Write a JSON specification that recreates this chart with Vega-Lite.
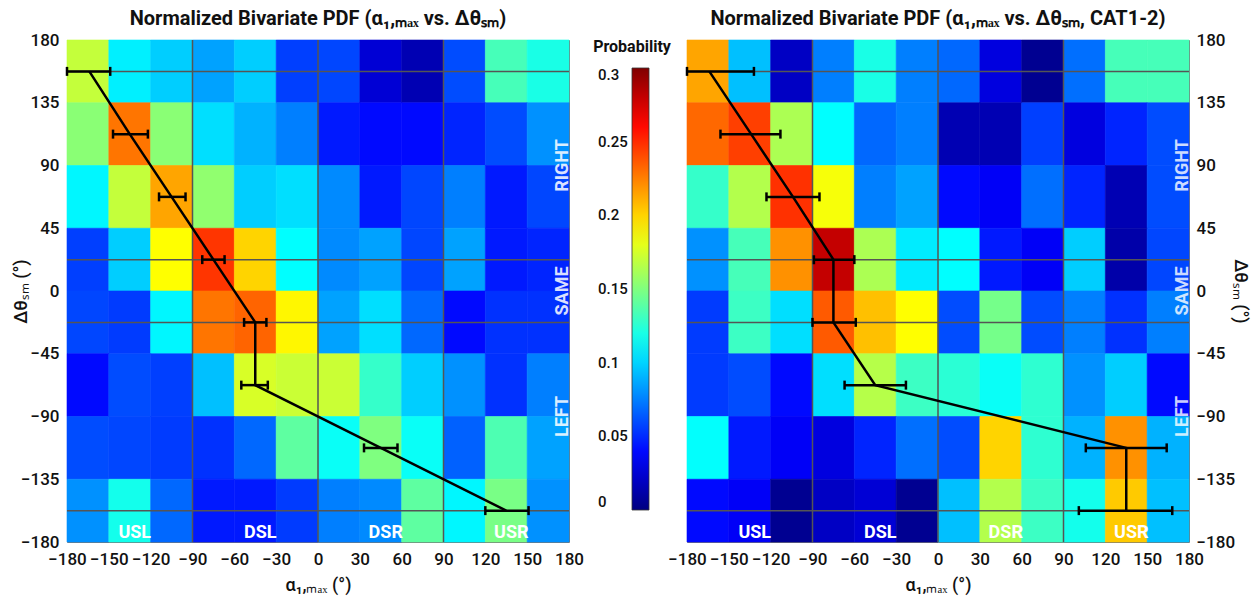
{
"$schema": "https://vega.github.io/schema/vega-lite/v6.json",
"background": "white",
"padding": {"left": 11, "top": 8, "right": 8, "bottom": 2},
"config": {
  "font": "Roboto",
  "view": {"stroke": "#777777", "strokeWidth": 1},
  "axis": {"ticks": false, "domain": false, "grid": false, "labelFont": "Roboto", "labelFontSize": 17, "labelFontWeight": 500, "labelColor": "#111111", "titleFont": "Roboto", "titleFontSize": 18, "titleFontWeight": 500, "titleColor": "#111111", "labelFlush": false, "labelOverlap": false, "labelBound": false},
  "title": {"font": "Roboto", "fontSize": 20, "fontWeight": "bold", "offset": 2, "color": "#111111"}
},
"datasets": {
  "cells": [
{"g":"L","a":-180,"a2":-150,"d":135,"d2":180,"p":0.17},{"g":"L","a":-150,"a2":-120,"d":135,"d2":180,"p":0.108},{"g":"L","a":-120,"a2":-90,"d":135,"d2":180,"p":0.098},{"g":"L","a":-90,"a2":-60,"d":135,"d2":180,"p":0.085},{"g":"L","a":-60,"a2":-30,"d":135,"d2":180,"p":0.098},{"g":"L","a":-30,"a2":0,"d":135,"d2":180,"p":0.056},{"g":"L","a":0,"a2":30,"d":135,"d2":180,"p":0.058},{"g":"L","a":30,"a2":60,"d":135,"d2":180,"p":0.025},{"g":"L","a":60,"a2":90,"d":135,"d2":180,"p":0.015},{"g":"L","a":90,"a2":120,"d":135,"d2":180,"p":0.06},{"g":"L","a":120,"a2":150,"d":135,"d2":180,"p":0.133},{"g":"L","a":150,"a2":180,"d":135,"d2":180,"p":0.12},
{"g":"L","a":-180,"a2":-150,"d":90,"d2":135,"p":0.153},{"g":"L","a":-150,"a2":-120,"d":90,"d2":135,"p":0.228},{"g":"L","a":-120,"a2":-90,"d":90,"d2":135,"p":0.153},{"g":"L","a":-90,"a2":-60,"d":90,"d2":135,"p":0.103},{"g":"L","a":-60,"a2":-30,"d":90,"d2":135,"p":0.09},{"g":"L","a":-30,"a2":0,"d":90,"d2":135,"p":0.075},{"g":"L","a":0,"a2":30,"d":90,"d2":135,"p":0.045},{"g":"L","a":30,"a2":60,"d":90,"d2":135,"p":0.04},{"g":"L","a":60,"a2":90,"d":90,"d2":135,"p":0.04},{"g":"L","a":90,"a2":120,"d":90,"d2":135,"p":0.048},{"g":"L","a":120,"a2":150,"d":90,"d2":135,"p":0.06},{"g":"L","a":150,"a2":180,"d":90,"d2":135,"p":0.08},
{"g":"L","a":-180,"a2":-150,"d":45,"d2":90,"p":0.11},{"g":"L","a":-150,"a2":-120,"d":45,"d2":90,"p":0.17},{"g":"L","a":-120,"a2":-90,"d":45,"d2":90,"p":0.214},{"g":"L","a":-90,"a2":-60,"d":45,"d2":90,"p":0.155},{"g":"L","a":-60,"a2":-30,"d":45,"d2":90,"p":0.098},{"g":"L","a":-30,"a2":0,"d":45,"d2":90,"p":0.103},{"g":"L","a":0,"a2":30,"d":45,"d2":90,"p":0.078},{"g":"L","a":30,"a2":60,"d":45,"d2":90,"p":0.045},{"g":"L","a":60,"a2":90,"d":45,"d2":90,"p":0.058},{"g":"L","a":90,"a2":120,"d":45,"d2":90,"p":0.075},{"g":"L","a":120,"a2":150,"d":45,"d2":90,"p":0.045},{"g":"L","a":150,"a2":180,"d":45,"d2":90,"p":0.058},
{"g":"L","a":-180,"a2":-150,"d":0,"d2":45,"p":0.056},{"g":"L","a":-150,"a2":-120,"d":0,"d2":45,"p":0.098},{"g":"L","a":-120,"a2":-90,"d":0,"d2":45,"p":0.1875},{"g":"L","a":-90,"a2":-60,"d":0,"d2":45,"p":0.247},{"g":"L","a":-60,"a2":-30,"d":0,"d2":45,"p":0.2},{"g":"L","a":-30,"a2":0,"d":0,"d2":45,"p":0.1125},{"g":"L","a":0,"a2":30,"d":0,"d2":45,"p":0.078},{"g":"L","a":30,"a2":60,"d":0,"d2":45,"p":0.085},{"g":"L","a":60,"a2":90,"d":0,"d2":45,"p":0.058},{"g":"L","a":90,"a2":120,"d":0,"d2":45,"p":0.085},{"g":"L","a":120,"a2":150,"d":0,"d2":45,"p":0.045},{"g":"L","a":150,"a2":180,"d":0,"d2":45,"p":0.048},
{"g":"L","a":-180,"a2":-150,"d":-45,"d2":0,"p":0.058},{"g":"L","a":-150,"a2":-120,"d":-45,"d2":0,"p":0.055},{"g":"L","a":-120,"a2":-90,"d":-45,"d2":0,"p":0.11},{"g":"L","a":-90,"a2":-60,"d":-45,"d2":0,"p":0.228},{"g":"L","a":-60,"a2":-30,"d":-45,"d2":0,"p":0.233},{"g":"L","a":-30,"a2":0,"d":-45,"d2":0,"p":0.19},{"g":"L","a":0,"a2":30,"d":-45,"d2":0,"p":0.085},{"g":"L","a":30,"a2":60,"d":-45,"d2":0,"p":0.103},{"g":"L","a":60,"a2":90,"d":-45,"d2":0,"p":0.068},{"g":"L","a":90,"a2":120,"d":-45,"d2":0,"p":0.04},{"g":"L","a":120,"a2":150,"d":-45,"d2":0,"p":0.052},{"g":"L","a":150,"a2":180,"d":-45,"d2":0,"p":0.052},
{"g":"L","a":-180,"a2":-150,"d":-90,"d2":-45,"p":0.04},{"g":"L","a":-150,"a2":-120,"d":-90,"d2":-45,"p":0.06},{"g":"L","a":-120,"a2":-90,"d":-90,"d2":-45,"p":0.056},{"g":"L","a":-90,"a2":-60,"d":-90,"d2":-45,"p":0.094},{"g":"L","a":-60,"a2":-30,"d":-90,"d2":-45,"p":0.176},{"g":"L","a":-30,"a2":0,"d":-90,"d2":-45,"p":0.172},{"g":"L","a":0,"a2":30,"d":-90,"d2":-45,"p":0.172},{"g":"L","a":30,"a2":60,"d":-90,"d2":-45,"p":0.128},{"g":"L","a":60,"a2":90,"d":-90,"d2":-45,"p":0.098},{"g":"L","a":90,"a2":120,"d":-90,"d2":-45,"p":0.08},{"g":"L","a":120,"a2":150,"d":-90,"d2":-45,"p":0.052},{"g":"L","a":150,"a2":180,"d":-90,"d2":-45,"p":0.075},
{"g":"L","a":-180,"a2":-150,"d":-135,"d2":-90,"p":0.06},{"g":"L","a":-150,"a2":-120,"d":-135,"d2":-90,"p":0.058},{"g":"L","a":-120,"a2":-90,"d":-135,"d2":-90,"p":0.055},{"g":"L","a":-90,"a2":-60,"d":-135,"d2":-90,"p":0.052},{"g":"L","a":-60,"a2":-30,"d":-135,"d2":-90,"p":0.068},{"g":"L","a":-30,"a2":0,"d":-135,"d2":-90,"p":0.14},{"g":"L","a":0,"a2":30,"d":-135,"d2":-90,"p":0.115},{"g":"L","a":30,"a2":60,"d":-135,"d2":-90,"p":0.15},{"g":"L","a":60,"a2":90,"d":-135,"d2":-90,"p":0.115},{"g":"L","a":90,"a2":120,"d":-135,"d2":-90,"p":0.066},{"g":"L","a":120,"a2":150,"d":-135,"d2":-90,"p":0.135},{"g":"L","a":150,"a2":180,"d":-135,"d2":-90,"p":0.085},
{"g":"L","a":-180,"a2":-150,"d":-180,"d2":-135,"p":0.08},{"g":"L","a":-150,"a2":-120,"d":-180,"d2":-135,"p":0.118},{"g":"L","a":-120,"a2":-90,"d":-180,"d2":-135,"p":0.068},{"g":"L","a":-90,"a2":-60,"d":-180,"d2":-135,"p":0.045},{"g":"L","a":-60,"a2":-30,"d":-180,"d2":-135,"p":0.045},{"g":"L","a":-30,"a2":0,"d":-180,"d2":-135,"p":0.055},{"g":"L","a":0,"a2":30,"d":-180,"d2":-135,"p":0.075},{"g":"L","a":30,"a2":60,"d":-180,"d2":-135,"p":0.078},{"g":"L","a":60,"a2":90,"d":-180,"d2":-135,"p":0.14},{"g":"L","a":90,"a2":120,"d":-180,"d2":-135,"p":0.11},{"g":"L","a":120,"a2":150,"d":-180,"d2":-135,"p":0.148},{"g":"L","a":150,"a2":180,"d":-180,"d2":-135,"p":0.08},
{"g":"R","a":-180,"a2":-150,"d":135,"d2":180,"p":0.214},{"g":"R","a":-150,"a2":-120,"d":135,"d2":180,"p":0.094},{"g":"R","a":-120,"a2":-90,"d":135,"d2":180,"p":0.02},{"g":"R","a":-90,"a2":-60,"d":135,"d2":180,"p":0.075},{"g":"R","a":-60,"a2":-30,"d":135,"d2":180,"p":0.12},{"g":"R","a":-30,"a2":0,"d":135,"d2":180,"p":0.075},{"g":"R","a":0,"a2":30,"d":135,"d2":180,"p":0.068},{"g":"R","a":30,"a2":60,"d":135,"d2":180,"p":0.028},{"g":"R","a":60,"a2":90,"d":135,"d2":180,"p":0.005},{"g":"R","a":90,"a2":120,"d":135,"d2":180,"p":0.07},{"g":"R","a":120,"a2":150,"d":135,"d2":180,"p":0.133},{"g":"R","a":150,"a2":180,"d":135,"d2":180,"p":0.133},
{"g":"R","a":-180,"a2":-150,"d":90,"d2":135,"p":0.232},{"g":"R","a":-150,"a2":-120,"d":90,"d2":135,"p":0.244},{"g":"R","a":-120,"a2":-90,"d":90,"d2":135,"p":0.163},{"g":"R","a":-90,"a2":-60,"d":90,"d2":135,"p":0.1125},{"g":"R","a":-60,"a2":-30,"d":90,"d2":135,"p":0.068},{"g":"R","a":-30,"a2":0,"d":90,"d2":135,"p":0.075},{"g":"R","a":0,"a2":30,"d":90,"d2":135,"p":0.015},{"g":"R","a":30,"a2":60,"d":90,"d2":135,"p":0.015},{"g":"R","a":60,"a2":90,"d":90,"d2":135,"p":0.056},{"g":"R","a":90,"a2":120,"d":90,"d2":135,"p":0.028},{"g":"R","a":120,"a2":150,"d":90,"d2":135,"p":0.048},{"g":"R","a":150,"a2":180,"d":90,"d2":135,"p":0.06},
{"g":"R","a":-180,"a2":-150,"d":45,"d2":90,"p":0.128},{"g":"R","a":-150,"a2":-120,"d":45,"d2":90,"p":0.165},{"g":"R","a":-120,"a2":-90,"d":45,"d2":90,"p":0.248},{"g":"R","a":-90,"a2":-60,"d":45,"d2":90,"p":0.185},{"g":"R","a":-60,"a2":-30,"d":45,"d2":90,"p":0.075},{"g":"R","a":-30,"a2":0,"d":45,"d2":90,"p":0.085},{"g":"R","a":0,"a2":30,"d":45,"d2":90,"p":0.04},{"g":"R","a":30,"a2":60,"d":45,"d2":90,"p":0.035},{"g":"R","a":60,"a2":90,"d":45,"d2":90,"p":0.07},{"g":"R","a":90,"a2":120,"d":45,"d2":90,"p":0.048},{"g":"R","a":120,"a2":150,"d":45,"d2":90,"p":0.015},{"g":"R","a":150,"a2":180,"d":45,"d2":90,"p":0.06},
{"g":"R","a":-180,"a2":-150,"d":0,"d2":45,"p":0.08},{"g":"R","a":-150,"a2":-120,"d":0,"d2":45,"p":0.133},{"g":"R","a":-120,"a2":-90,"d":0,"d2":45,"p":0.22},{"g":"R","a":-90,"a2":-60,"d":0,"d2":45,"p":0.28},{"g":"R","a":-60,"a2":-30,"d":0,"d2":45,"p":0.163},{"g":"R","a":-30,"a2":0,"d":0,"d2":45,"p":0.107},{"g":"R","a":0,"a2":30,"d":0,"d2":45,"p":0.1125},{"g":"R","a":30,"a2":60,"d":0,"d2":45,"p":0.045},{"g":"R","a":60,"a2":90,"d":0,"d2":45,"p":0.035},{"g":"R","a":90,"a2":120,"d":0,"d2":45,"p":0.098},{"g":"R","a":120,"a2":150,"d":0,"d2":45,"p":0.012},{"g":"R","a":150,"a2":180,"d":0,"d2":45,"p":0.058},
{"g":"R","a":-180,"a2":-150,"d":-45,"d2":0,"p":0.055},{"g":"R","a":-150,"a2":-120,"d":-45,"d2":0,"p":0.13},{"g":"R","a":-120,"a2":-90,"d":-45,"d2":0,"p":0.103},{"g":"R","a":-90,"a2":-60,"d":-45,"d2":0,"p":0.236},{"g":"R","a":-60,"a2":-30,"d":-45,"d2":0,"p":0.206},{"g":"R","a":-30,"a2":0,"d":-45,"d2":0,"p":0.1875},{"g":"R","a":0,"a2":30,"d":-45,"d2":0,"p":0.06},{"g":"R","a":30,"a2":60,"d":-45,"d2":0,"p":0.147},{"g":"R","a":60,"a2":90,"d":-45,"d2":0,"p":0.06},{"g":"R","a":90,"a2":120,"d":-45,"d2":0,"p":0.075},{"g":"R","a":120,"a2":150,"d":-45,"d2":0,"p":0.052},{"g":"R","a":150,"a2":180,"d":-45,"d2":0,"p":0.075},
{"g":"R","a":-180,"a2":-150,"d":-90,"d2":-45,"p":0.055},{"g":"R","a":-150,"a2":-120,"d":-90,"d2":-45,"p":0.06},{"g":"R","a":-120,"a2":-90,"d":-90,"d2":-45,"p":0.04},{"g":"R","a":-90,"a2":-60,"d":-90,"d2":-45,"p":0.103},{"g":"R","a":-60,"a2":-30,"d":-90,"d2":-45,"p":0.166},{"g":"R","a":-30,"a2":0,"d":-90,"d2":-45,"p":0.13},{"g":"R","a":0,"a2":30,"d":-90,"d2":-45,"p":0.125},{"g":"R","a":30,"a2":60,"d":-90,"d2":-45,"p":0.115},{"g":"R","a":60,"a2":90,"d":-90,"d2":-45,"p":0.126},{"g":"R","a":90,"a2":120,"d":-90,"d2":-45,"p":0.08},{"g":"R","a":120,"a2":150,"d":-90,"d2":-45,"p":0.098},{"g":"R","a":150,"a2":180,"d":-90,"d2":-45,"p":0.04},
{"g":"R","a":-180,"a2":-150,"d":-135,"d2":-90,"p":0.113},{"g":"R","a":-150,"a2":-120,"d":-135,"d2":-90,"p":0.045},{"g":"R","a":-120,"a2":-90,"d":-135,"d2":-90,"p":0.035},{"g":"R","a":-90,"a2":-60,"d":-135,"d2":-90,"p":0.028},{"g":"R","a":-60,"a2":-30,"d":-135,"d2":-90,"p":0.048},{"g":"R","a":-30,"a2":0,"d":-135,"d2":-90,"p":0.07},{"g":"R","a":0,"a2":30,"d":-135,"d2":-90,"p":0.06},{"g":"R","a":30,"a2":60,"d":-135,"d2":-90,"p":0.2},{"g":"R","a":60,"a2":90,"d":-135,"d2":-90,"p":0.126},{"g":"R","a":90,"a2":120,"d":-135,"d2":-90,"p":0.09},{"g":"R","a":120,"a2":150,"d":-135,"d2":-90,"p":0.22},{"g":"R","a":150,"a2":180,"d":-135,"d2":-90,"p":0.09},
{"g":"R","a":-180,"a2":-150,"d":-180,"d2":-135,"p":0.04},{"g":"R","a":-150,"a2":-120,"d":-180,"d2":-135,"p":0.035},{"g":"R","a":-120,"a2":-90,"d":-180,"d2":-135,"p":0.005},{"g":"R","a":-90,"a2":-60,"d":-180,"d2":-135,"p":0.02},{"g":"R","a":-60,"a2":-30,"d":-180,"d2":-135,"p":0.025},{"g":"R","a":-30,"a2":0,"d":-180,"d2":-135,"p":0.005},{"g":"R","a":0,"a2":30,"d":-180,"d2":-135,"p":0.094},{"g":"R","a":30,"a2":60,"d":-180,"d2":-135,"p":0.165},{"g":"R","a":60,"a2":90,"d":-180,"d2":-135,"p":0.13},{"g":"R","a":90,"a2":120,"d":-180,"d2":-135,"p":0.118},{"g":"R","a":120,"a2":150,"d":-180,"d2":-135,"p":0.203},{"g":"R","a":150,"a2":180,"d":-180,"d2":-135,"p":0.094}
  ],
  "path": [
{"g":"L","k":1,"y":157.5,"x":-164,"lo":-180,"hi":-149},
{"g":"L","k":2,"y":112.5,"x":-135,"lo":-147,"hi":-122},
{"g":"L","k":3,"y":67.5,"x":-105,"lo":-114,"hi":-95},
{"g":"L","k":4,"y":22.5,"x":-75,"lo":-83,"hi":-67},
{"g":"L","k":5,"y":-22.5,"x":-45,"lo":-53,"hi":-37},
{"g":"L","k":6,"y":-67.5,"x":-45,"lo":-55,"hi":-36},
{"g":"L","k":7,"y":-112.5,"x":45,"lo":33,"hi":57},
{"g":"L","k":8,"y":-157.5,"x":135,"lo":120,"hi":151},
{"g":"R","k":1,"y":157.5,"x":-164,"lo":-180,"hi":-132},
{"g":"R","k":2,"y":112.5,"x":-134,"lo":-156,"hi":-113},
{"g":"R","k":3,"y":67.5,"x":-104,"lo":-123,"hi":-85},
{"g":"R","k":4,"y":22.5,"x":-75,"lo":-89,"hi":-60},
{"g":"R","k":5,"y":-22.5,"x":-75,"lo":-90,"hi":-59},
{"g":"R","k":6,"y":-67.5,"x":-45,"lo":-67,"hi":-23},
{"g":"R","k":7,"y":-112.5,"x":135,"lo":106,"hi":164},
{"g":"R","k":8,"y":-157.5,"x":135,"lo":101,"hi":168}
  ],
  "vlines": [{"v":-90},{"v":0},{"v":90}],
  "hlines": [{"v":157.5},{"v":22.5},{"v":-22.5},{"v":-157.5}],
  "regions": [{"t":"USL","x":-135},{"t":"DSL","x":-45},{"t":"DSR","x":45},{"t":"USR","x":135}],
  "sides": [{"t":"RIGHT","y":90},{"t":"SAME","y":0},{"t":"LEFT","y":-90}]
},
"spacing": 118,
"bounds": "flush",
"resolve": {"scale": {"color": "independent"}, "legend": {"color": "independent"}},
"hconcat": [
{
  "width": 502, "height": 502,
  "title": {"text": "Normalized Bivariate PDF (α₁,ₘₐₓ vs. Δθₛₘ)"},
  "layer": [
    {"data": {"name": "cells"}, "transform": [{"filter": "datum.g === 'L'"}],
     "mark": {"type": "rect", "strokeWidth": 0.6},
     "encoding": {
       "x": {"field": "a", "type": "quantitative", "title": "α₁,ₘₐₓ (°)", "scale": {"domain": [-180, 180], "nice": false, "zero": false}, "axis": {"values": [-180,-150,-120,-90,-60,-30,0,30,60,90,120,150,180], "labelPadding": 9, "titlePadding": 9}},
       "x2": {"field": "a2"},
       "y": {"field": "d", "type": "quantitative", "title": "Δθₛₘ (°)", "scale": {"domain": [-180, 180], "nice": false, "zero": false}, "axis": {"values": [-180,-135,-90,-45,0,45,90,135,180], "labelPadding": 8, "titlePadding": -10}},
       "y2": {"field": "d2"},
       "color": {"field": "p", "type": "quantitative",
         "scale": {"domain": [0, 0.0375, 0.1125, 0.1875, 0.2625, 0.3], "range": ["#000080", "#0000ff", "#00ffff", "#ffff00", "#ff0000", "#800000"], "interpolate": "rgb", "clamp": true},
         "legend": {"orient": "none", "legendX": 526, "legendY": -1, "direction": "vertical", "gradientLength": 442, "gradientThickness": 17, "title": "Probability", "titleFont": "Roboto", "titleFontSize": 16, "titleFontWeight": "bold", "titleColor": "#111111", "titleAnchor": "start", "titleAlign": "center", "titlePadding": 13, "labelOffset": -51, "labelFont": "Roboto", "labelFontSize": 15, "labelFontWeight": 500, "labelColor": "#111111", "values": [0, 0.05, 0.1, 0.15, 0.2, 0.25, 0.3], "format": "~g", "labelOverlap": false, "gradientStrokeColor": "#333333", "gradientStrokeWidth": 0.8, "padding": 0}},
       "stroke": {"field": "p", "type": "quantitative", "legend": null,
         "scale": {"domain": [0, 0.0375, 0.1125, 0.1875, 0.2625, 0.3], "range": ["#000080", "#0000ff", "#00ffff", "#ffff00", "#ff0000", "#800000"], "interpolate": "rgb", "clamp": true}}
     }},
    {"data": {"name": "vlines"}, "mark": {"type": "rule", "color": "#555555", "strokeWidth": 1.5},
     "encoding": {"x": {"field": "v", "type": "quantitative", "title": "α₁,ₘₐₓ (°)"}}},
    {"data": {"name": "hlines"}, "mark": {"type": "rule", "color": "#555555", "strokeWidth": 1.5},
     "encoding": {"y": {"field": "v", "type": "quantitative", "title": "Δθₛₘ (°)"}}},
    {"data": {"name": "path"}, "transform": [{"filter": "datum.g === 'L'"}],
     "mark": {"type": "line", "color": "#000000", "strokeWidth": 2.5},
     "encoding": {"x": {"field": "x", "type": "quantitative", "title": "α₁,ₘₐₓ (°)"}, "y": {"field": "y", "type": "quantitative", "title": "Δθₛₘ (°)"}, "order": {"field": "k", "type": "quantitative"}}},
    {"data": {"name": "path"}, "transform": [{"filter": "datum.g === 'L'"}],
     "mark": {"type": "rule", "color": "#000000", "strokeWidth": 2.5},
     "encoding": {"x": {"field": "lo", "type": "quantitative", "title": "α₁,ₘₐₓ (°)"}, "x2": {"field": "hi"}, "y": {"field": "y", "type": "quantitative", "title": "Δθₛₘ (°)"}}},
    {"data": {"name": "path"}, "transform": [{"filter": "datum.g === 'L'"}],
     "mark": {"type": "tick", "color": "#000000", "orient": "vertical", "size": 9, "thickness": 2.5, "opacity": 1},
     "encoding": {"x": {"field": "lo", "type": "quantitative", "title": "α₁,ₘₐₓ (°)"}, "y": {"field": "y", "type": "quantitative", "title": "Δθₛₘ (°)"}}},
    {"data": {"name": "path"}, "transform": [{"filter": "datum.g === 'L'"}],
     "mark": {"type": "tick", "color": "#000000", "orient": "vertical", "size": 9, "thickness": 2.5, "opacity": 1},
     "encoding": {"x": {"field": "hi", "type": "quantitative", "title": "α₁,ₘₐₓ (°)"}, "y": {"field": "y", "type": "quantitative", "title": "Δθₛₘ (°)"}}},
    {"data": {"name": "regions"},
     "mark": {"type": "text", "color": "#ffffff", "font": "Roboto", "fontSize": 18, "fontWeight": "bold", "baseline": "bottom", "align": "center", "dx": 5, "dy": 0},
     "encoding": {"x": {"field": "x", "type": "quantitative", "title": "α₁,ₘₐₓ (°)"}, "y": {"datum": -180, "type": "quantitative"}, "text": {"field": "t"}}},
    {"data": {"name": "sides"},
     "mark": {"type": "text", "color": "#ffffff", "opacity": 0.85, "font": "Roboto", "fontSize": 18, "fontWeight": "bold", "baseline": "alphabetic", "align": "center", "angle": 270, "dy": -1},
     "encoding": {"x": {"datum": 180, "type": "quantitative"}, "y": {"field": "y", "type": "quantitative", "title": "Δθₛₘ (°)"}, "text": {"field": "t"}}}
  ]
},
{
  "width": 502, "height": 502,
  "title": {"text": "Normalized Bivariate PDF (α₁,ₘₐₓ vs. Δθₛₘ, CAT1-2)"},
  "layer": [
    {"data": {"name": "cells"}, "transform": [{"filter": "datum.g === 'R'"}],
     "mark": {"type": "rect", "strokeWidth": 0.6},
     "encoding": {
       "x": {"field": "a", "type": "quantitative", "title": "α₁,ₘₐₓ (°)", "scale": {"domain": [-180, 180], "nice": false, "zero": false}, "axis": {"values": [-180,-150,-120,-90,-60,-30,0,30,60,90,120,150,180], "labelPadding": 9, "titlePadding": 9}},
       "x2": {"field": "a2"},
       "y": {"field": "d", "type": "quantitative", "title": "Δθₛₘ (°)", "scale": {"domain": [-180, 180], "nice": false, "zero": false}, "axis": {"orient": "right", "values": [-180,-135,-90,-45,0,45,90,135,180], "labelPadding": 7, "titlePadding": -4}},
       "y2": {"field": "d2"},
       "color": {"field": "p", "type": "quantitative", "legend": null,
         "scale": {"domain": [0, 0.0375, 0.1125, 0.1875, 0.2625, 0.3], "range": ["#000080", "#0000ff", "#00ffff", "#ffff00", "#ff0000", "#800000"], "interpolate": "rgb", "clamp": true}},
       "stroke": {"field": "p", "type": "quantitative", "legend": null,
         "scale": {"domain": [0, 0.0375, 0.1125, 0.1875, 0.2625, 0.3], "range": ["#000080", "#0000ff", "#00ffff", "#ffff00", "#ff0000", "#800000"], "interpolate": "rgb", "clamp": true}}
     }},
    {"data": {"name": "vlines"}, "mark": {"type": "rule", "color": "#555555", "strokeWidth": 1.5},
     "encoding": {"x": {"field": "v", "type": "quantitative", "title": "α₁,ₘₐₓ (°)"}}},
    {"data": {"name": "hlines"}, "mark": {"type": "rule", "color": "#555555", "strokeWidth": 1.5},
     "encoding": {"y": {"field": "v", "type": "quantitative", "title": "Δθₛₘ (°)"}}},
    {"data": {"name": "path"}, "transform": [{"filter": "datum.g === 'R'"}],
     "mark": {"type": "line", "color": "#000000", "strokeWidth": 2.5},
     "encoding": {"x": {"field": "x", "type": "quantitative", "title": "α₁,ₘₐₓ (°)"}, "y": {"field": "y", "type": "quantitative", "title": "Δθₛₘ (°)"}, "order": {"field": "k", "type": "quantitative"}}},
    {"data": {"name": "path"}, "transform": [{"filter": "datum.g === 'R'"}],
     "mark": {"type": "rule", "color": "#000000", "strokeWidth": 2.5},
     "encoding": {"x": {"field": "lo", "type": "quantitative", "title": "α₁,ₘₐₓ (°)"}, "x2": {"field": "hi"}, "y": {"field": "y", "type": "quantitative", "title": "Δθₛₘ (°)"}}},
    {"data": {"name": "path"}, "transform": [{"filter": "datum.g === 'R'"}],
     "mark": {"type": "tick", "color": "#000000", "orient": "vertical", "size": 9, "thickness": 2.5, "opacity": 1},
     "encoding": {"x": {"field": "lo", "type": "quantitative", "title": "α₁,ₘₐₓ (°)"}, "y": {"field": "y", "type": "quantitative", "title": "Δθₛₘ (°)"}}},
    {"data": {"name": "path"}, "transform": [{"filter": "datum.g === 'R'"}],
     "mark": {"type": "tick", "color": "#000000", "orient": "vertical", "size": 9, "thickness": 2.5, "opacity": 1},
     "encoding": {"x": {"field": "hi", "type": "quantitative", "title": "α₁,ₘₐₓ (°)"}, "y": {"field": "y", "type": "quantitative", "title": "Δθₛₘ (°)"}}},
    {"data": {"name": "regions"},
     "mark": {"type": "text", "color": "#ffffff", "font": "Roboto", "fontSize": 18, "fontWeight": "bold", "baseline": "bottom", "align": "center", "dx": 5, "dy": 0},
     "encoding": {"x": {"field": "x", "type": "quantitative", "title": "α₁,ₘₐₓ (°)"}, "y": {"datum": -180, "type": "quantitative"}, "text": {"field": "t"}}},
    {"data": {"name": "sides"},
     "mark": {"type": "text", "color": "#ffffff", "opacity": 0.8, "font": "Roboto", "fontSize": 18, "fontWeight": "bold", "baseline": "alphabetic", "align": "center", "angle": 270, "dy": -1},
     "encoding": {"x": {"datum": 180, "type": "quantitative"}, "y": {"field": "y", "type": "quantitative", "title": "Δθₛₘ (°)"}, "text": {"field": "t"}}}
  ]
}
]
}
